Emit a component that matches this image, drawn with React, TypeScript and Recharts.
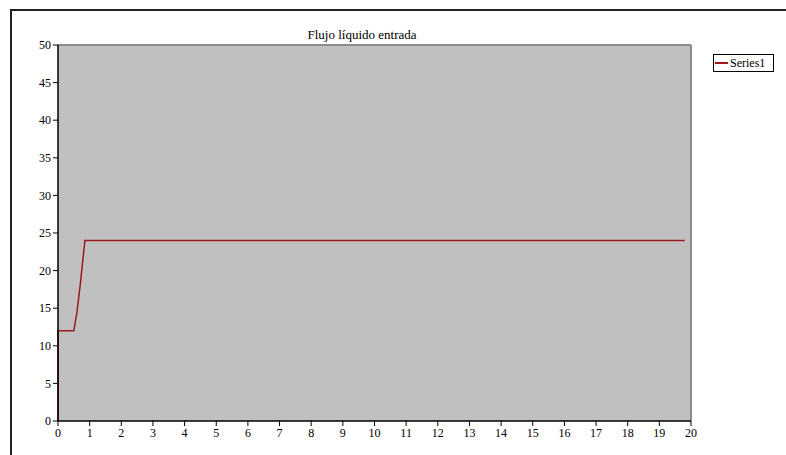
import React from "react";
import { LineChart, Line, XAxis, YAxis, CartesianGrid, ReferenceLine } from "recharts";

const timeValues = [0, 0, 0.5, 0.6, 0.7, 0.8, 0.85, 19.8];
const flowValues = [0, 12, 12, 14.5, 18, 22, 24, 24];
const xTicks = [0, 1, 2, 3, 4, 5, 6, 7, 8, 9, 10, 11, 12, 13, 14, 15, 16, 17, 18, 19, 20];
const yTicks = [0, 5, 10, 15, 20, 25, 30, 35, 40, 45, 50];
const title = "Flujo líquido entrada";
const seriesName = "Series1";

const data = timeValues.map((t, i) => ({ t, v: flowValues[i] }));

const font = "Times New Roman";

export default function App() {
  return (
    <div style={{ position: "fixed", left: 0, top: 0, width: 786, height: 455, overflow: "hidden", background: "#fff", fontFamily: font }}>
      <div style={{ position: "absolute", left: 10, top: 9, width: 900, height: 600, borderLeft: "2px solid #222", borderTop: "2px solid #222" }} />
      <div style={{ position: "absolute", left: 0, top: 0 }}>
        <LineChart width={786} height={455} data={data} margin={{ top: 45, right: 95, left: 18, bottom: 4 }} style={{ fontFamily: font }}>
          <CartesianGrid horizontal={false} vertical={false} fill="#c0c0c0" stroke="none" />
          <ReferenceLine y={50} stroke="#8c8c8c" strokeWidth={2} />
          <ReferenceLine x={20} stroke="#8c8c8c" strokeWidth={2} />
          <XAxis
            dataKey="t"
            type="number"
            domain={[0, 20]}
            ticks={xTicks}
            interval={0}
            axisLine={{ stroke: "#000", strokeWidth: 1.5 }}
            tickLine={{ stroke: "#000" }}
            tickSize={5}
            height={30}
            tick={{ fill: "#000", fontSize: 12, fontFamily: font }}
          />
          <YAxis
            type="number"
            domain={[0, 50]}
            ticks={yTicks}
            interval={0}
            axisLine={{ stroke: "#000", strokeWidth: 1.5 }}
            tickLine={{ stroke: "#000" }}
            tickSize={5}
            width={40}
            tick={{ fill: "#000", fontSize: 12, fontFamily: font }}
          />
          <Line dataKey="v" type="linear" stroke="#9c1a1a" strokeWidth={1.5} dot={false} isAnimationActive={false} />
        </LineChart>
      </div>
      <div style={{ position: "absolute", left: 250, width: 224, top: 27, textAlign: "center", fontFamily: font, fontSize: 13, color: "#000" }}>
        {title}
      </div>
      <div style={{ position: "absolute", left: 713, top: 54, width: 61, height: 18, border: "1px solid #000", boxSizing: "border-box", display: "flex", alignItems: "center", fontFamily: font, fontSize: 12, color: "#000" }}>
        <div style={{ width: 13, height: 1.5, background: "#9c1a1a", marginLeft: 1, marginRight: 2 }} />
        <span>{seriesName}</span>
      </div>
    </div>
  );
}
